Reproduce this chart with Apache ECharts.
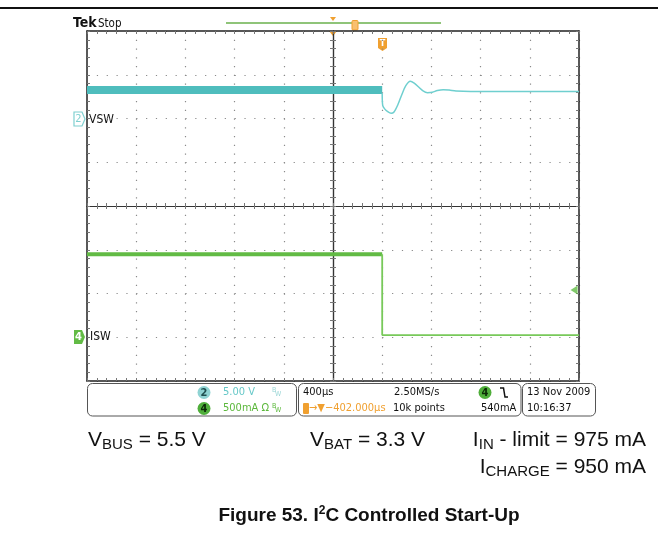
<!DOCTYPE html>
<html>
<head>
<meta charset="utf-8">
<title>I2C Controlled Start-Up</title>
<script src="https://cdn.jsdelivr.net/npm/echarts@6/dist/echarts.min.js"></script>
</head>
<body style="margin:0;background:#fff">
<div id="main" style="width:658px;height:539px;"></div>
<script>
// screen units: divisions, x = -5..5 (400us/div), y = -4..4
var vswBand = [[-5, 2.65], [1.0, 2.65]];
var vswRing = [[1.0, 2.58], [1.01, 2.30], [1.05, 2.22], [1.12, 2.15], [1.18, 2.12], [1.24, 2.15],
  [1.32, 2.32], [1.40, 2.55], [1.48, 2.75], [1.57, 2.85], [1.65, 2.81], [1.74, 2.72], [1.83, 2.63],
  [1.92, 2.59], [2.02, 2.60], [2.12, 2.64], [2.24, 2.66], [2.36, 2.65], [2.50, 2.63], [2.80, 2.62], [5, 2.62]];
var iswBand = [[-5, -1.10], [1.0, -1.10]];
var iswStep = [[1.0, -1.10], [1.0, -2.95], [5, -2.95]];
var trigLevel = [[4.9, -1.92]];

var scopeFont = '"DejaVu Sans Condensed", "Liberation Sans Narrow", "DejaVu Sans", sans-serif';
var cyan = '#4fbdbd', green = '#62bb45', orange = '#f0a030';

var myChart = echarts.init(document.getElementById('main'));

function xAx(position, onZero, split) {
    return {
        type: 'value', min: -5, max: 5, interval: 1, position: position,
        axisLine: { show: true, onZero: onZero, onZeroAxisIndex: 0, lineStyle: { color: onZero ? '#333' : '#222', width: onZero ? 1.2 : 1.5 } },
        axisTick: { show: true, inside: !onZero, length: 3, lineStyle: { color: '#777' } },
        minorTick: { show: true, splitNumber: 5, length: 3, lineStyle: { color: '#777' } },
        axisLabel: { show: false },
        splitLine: { show: split, lineStyle: { color: '#8a8a8a', width: 1.2, type: [1.2, 7.55] } }
    };
}
function yAx(position, onZero, split) {
    return {
        type: 'value', min: -4, max: 4, interval: 1, position: position,
        axisLine: { show: true, onZero: onZero, onZeroAxisIndex: 0, lineStyle: { color: onZero ? '#333' : '#222', width: onZero ? 1.2 : 1.5 } },
        axisTick: { show: true, inside: !onZero, length: 3, lineStyle: { color: '#777' } },
        minorTick: { show: true, splitNumber: 5, length: 3, lineStyle: { color: '#777' } },
        axisLabel: { show: false },
        splitLine: { show: split, lineStyle: { color: '#8a8a8a', width: 1.2, type: [1.2, 8.64] } }
    };
}

function txt(x, y, s, color, size, extra) {
    var o = { type: 'text', x: x, y: y, style: { text: s, fill: color || '#111', font: (size || 11) + 'px ' + scopeFont, align: 'left', verticalAlign: 'middle' } };
    if (extra) for (var k in extra) o.style[k] = extra[k];
    return o;
}
function badge(cx, cy, s, fill, textColor) {
    return [
        { type: 'circle', shape: { cx: cx, cy: cy, r: 6.5 }, style: { fill: fill } },
        { type: 'text', x: cx, y: cy + 0.5, style: { text: s, fill: textColor, font: 'bold 11px ' + scopeFont, align: 'center', verticalAlign: 'middle' } }
    ];
}

var capFont = '"Liberation Sans", Arial, sans-serif';
var capRich = {
    m: { fontSize: 21, fontFamily: capFont, lineHeight: 24, fill: '#111' },
    s: { fontSize: 15, fontFamily: capFont, lineHeight: 12, verticalAlign: 'bottom', fill: '#111' }
};

var graphics = [
    { type: 'line', shape: { x1: 0, y1: 8, x2: 658, y2: 8 }, style: { stroke: '#111', lineWidth: 2 } },
    { type: 'text', x: 73, y: 23, style: { text: 'Tek', fill: '#111', font: 'bold 14px ' + scopeFont, verticalAlign: 'middle' } },
    txt(98, 24, 'Stop', '#111', 11.5),
    { type: 'line', shape: { x1: 226, y1: 23, x2: 441, y2: 23 }, style: { stroke: '#6ab04c', lineWidth: 1.5 } },
    { type: 'polygon', shape: { points: [[330, 17], [336, 17], [333, 21]] }, style: { fill: orange } },
    { type: 'polygon', shape: { points: [[329, 31], [337, 31], [333, 36]] }, style: { fill: orange } },
    { type: 'rect', shape: { x: 352, y: 20.5, width: 6, height: 9.5, r: 1 }, style: { fill: '#f8c070', stroke: orange, lineWidth: 1 } },
    { type: 'polygon', shape: { points: [[378, 38], [387, 38], [387, 48], [382.5, 51], [378, 48]] }, style: { fill: orange } },
    { type: 'text', x: 382.5, y: 44, style: { text: 'T', fill: '#fff', font: 'bold 9px ' + scopeFont, align: 'center', verticalAlign: 'middle' } },
    // channel markers
    { type: 'polygon', shape: { points: [[74, 112], [82, 112], [85, 119], [82, 126], [74, 126]] }, style: { fill: '#fff', stroke: '#7fd0d0', lineWidth: 1.2 } },
    { type: 'text', x: 78.5, y: 119.5, style: { text: '2', fill: '#7fd0d0', font: '11px ' + scopeFont, align: 'center', verticalAlign: 'middle' } },
    txt(89, 120, 'VSW', '#111', 12),
    { type: 'polygon', shape: { points: [[74, 330], [82, 330], [85, 337], [82, 344], [74, 344]] }, style: { fill: green } },
    { type: 'text', x: 78.5, y: 337.5, style: { text: '4', fill: '#fff', font: 'bold 11px ' + scopeFont, align: 'center', verticalAlign: 'middle' } },
    txt(90, 337, 'ISW', '#111', 12),
    // status panel
    { type: 'rect', shape: { x: 87.5, y: 383.5, width: 209, height: 32.5, r: 5 }, style: { fill: 'none', stroke: '#555', lineWidth: 1 } },
    { type: 'rect', shape: { x: 298.5, y: 383.5, width: 222.5, height: 32.5, r: 5 }, style: { fill: 'none', stroke: '#555', lineWidth: 1 } },
    { type: 'rect', shape: { x: 522.5, y: 383.5, width: 73, height: 32.5, r: 5 }, style: { fill: 'none', stroke: '#555', lineWidth: 1 } }
].concat(badge(204, 392.5, '2', '#8fd3d3', '#1f4f4f'))
 .concat(badge(204, 408.5, '4', '#4fae3a', '#0c2a06'))
 .concat([
    txt(223, 392.5, '5.00 V', '#66c8c8'),
    txt(272, 390, 'B', '#9bd6d6', 7), txt(275, 394, 'W', '#9bd6d6', 7),
    txt(223, 408.5, '500mA Ω', '#5cb83c'),
    txt(272, 406, 'B', '#5cb83c', 7), txt(275, 410, 'W', '#5cb83c', 7),
    txt(303, 392.5, '400µs', '#111'),
    txt(394, 392.5, '2.50MS/s', '#111')
 ])
 .concat(badge(485, 392.5, '4', '#4fae3a', '#0c2a06'))
 .concat([
    { type: 'polyline', shape: { points: [[500, 388], [503.5, 388], [505, 397], [508, 397]] }, style: { stroke: '#111', lineWidth: 1.5, fill: 'none' } },
    { type: 'rect', shape: { x: 303, y: 403, width: 6, height: 11, r: 1 }, style: { fill: orange } },
    txt(309, 408.5, '\u2192\u25bc\u2212402.000µs', orange),
    txt(393, 408.5, '10k points', '#111'),
    txt(481, 408.5, '540mA', '#111'),
    txt(527, 392.5, '13 Nov 2009', '#111'),
    txt(527, 408.5, '10:16:37', '#111'),
    // conditions
    { type: 'text', x: 88, y: 440, style: { text: '{m|V}{s|BUS}{m| = 5.5 V}', rich: capRich, verticalAlign: 'middle' } },
    { type: 'text', x: 310, y: 440, style: { text: '{m|V}{s|BAT}{m| = 3.3 V}', rich: capRich, verticalAlign: 'middle' } },
    { type: 'text', x: 646, y: 440, style: { text: '{m|I}{s|IN}{m| - limit = 975 mA}', rich: capRich, align: 'right', verticalAlign: 'middle' } },
    { type: 'text', x: 646, y: 467, style: { text: '{m|I}{s|CHARGE}{m| = 950 mA}', rich: capRich, align: 'right', verticalAlign: 'middle' } },
    { type: 'text', x: 369, y: 516, style: {
        text: '{b|Figure 53. I}{p|2}{b|C Controlled Start-Up}', align: 'center', verticalAlign: 'middle',
        rich: {
            b: { fontSize: 19, fontWeight: 'bold', fontFamily: capFont, lineHeight: 22, fill: '#111' },
            p: { fontSize: 12, fontWeight: 'bold', fontFamily: capFont, lineHeight: 12, verticalAlign: 'top', fill: '#111' }
        } } }
 ]);

var option = {
    animation: false,
    grid: { left: 87, top: 31, width: 492, height: 350 },
    xAxis: [xAx('bottom', false, true), xAx('top', false, false), xAx('bottom', true, false), xAx('top', true, false)],
    yAxis: [yAx('left', false, true), yAx('right', false, false), yAx('left', true, false), yAx('right', true, false)],
    series: [
        { name: 'VSW', type: 'line', data: vswBand, showSymbol: false, silent: true, lineStyle: { width: 8, color: cyan } },
        { name: 'VSW ring', type: 'line', data: vswRing, showSymbol: false, silent: true, smooth: 0.3, lineStyle: { width: 1.5, color: '#6fcfcf' } },
        { name: 'ISW', type: 'line', data: iswBand, showSymbol: false, silent: true, lineStyle: { width: 4, color: green } },
        { name: 'ISW step', type: 'line', data: iswStep, showSymbol: false, silent: true, lineStyle: { width: 1.8, color: '#78c95a' } },
        { name: 'trigger level', type: 'scatter', data: trigLevel, symbol: 'triangle', symbolRotate: 90, symbolSize: [9, 7], silent: true, itemStyle: { color: green } }
    ],
    graphic: graphics
};
myChart.setOption(option);
</script>
</body>
</html>
